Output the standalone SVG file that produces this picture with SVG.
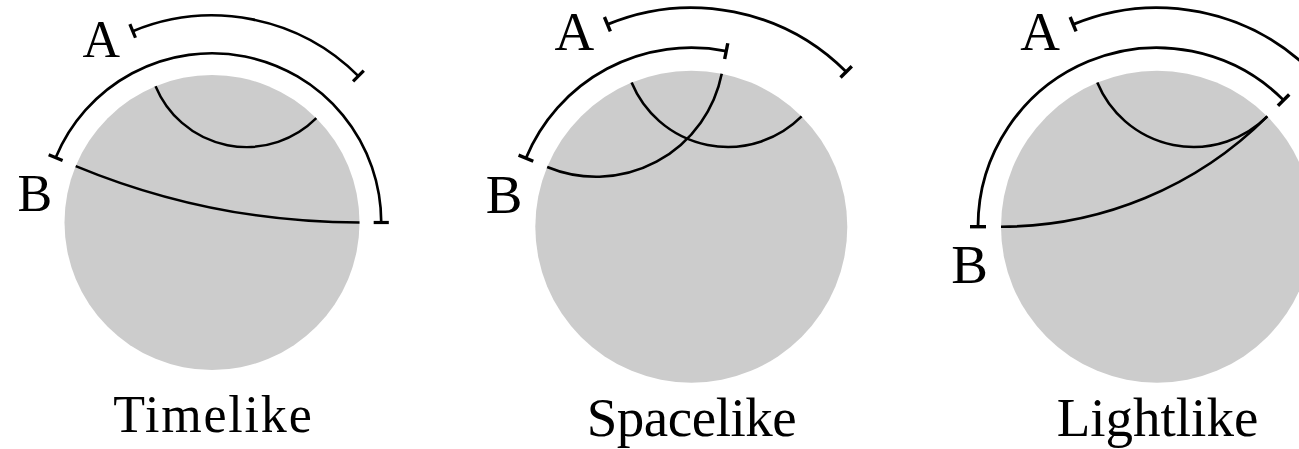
<svg xmlns="http://www.w3.org/2000/svg" width="1299" height="449" viewBox="0 0 1299 449">
<style>
.disk{fill:#cccccc;stroke:none}
.geo{fill:none;stroke:#000;stroke-width:2.6}
.br{fill:none;stroke:#000;stroke-width:2.8}
.tk{stroke:#000;stroke-width:3.4;stroke-linecap:butt}
.lbl{font-family:"Liberation Serif","DejaVu Serif",serif;font-size:55px;fill:#000;text-anchor:middle}
.cap{font-family:"Liberation Serif","DejaVu Serif",serif;font-size:55px;fill:#000;text-anchor:middle}
</style>
<rect width="1299" height="449" fill="#ffffff"/>

<!-- Panel 1: Timelike -->
<g id="timelike" transform="translate(212,222.5) scale(0.9455)">
  <circle class="disk" cx="0" cy="0" r="156"/>
  <g id="timelike-connectors">
    <path class="geo" d="M -59.70 -144.13 A 104.24 104.24 0 0 0 110.31 -110.31"/>
    <path class="geo" d="M -144.13 -59.70 A 784.3 784.3 0 0 0 156 0"/>
    <path class="br" d="M -83.81 -202.33 A 219 219 0 0 1 154.86 -154.86"/>
    <line class="tk" x1="-80.94" y1="-195.40" x2="-86.87" y2="-209.72"/>
    <line class="tk" x1="149.20" y1="-149.20" x2="160.52" y2="-160.52"/>
    <path class="br" d="M -165.37 -68.50 A 179 179 0 0 1 179 0"/>
    <line class="tk" x1="-158.02" y1="-65.46" x2="-172.72" y2="-71.54"/>
    <line class="tk" x1="171" y1="0" x2="187" y2="0"/>
  </g>
  <text class="lbl" x="-117" y="-175.4">A</text>
  <text class="lbl" x="-187.5" y="-12.2">B</text>
  <text class="cap" x="0.5" y="221.9" textLength="210" lengthAdjust="spacing">Timelike</text>
</g>

<!-- Panel 2: Spacelike -->
<g id="spacelike" transform="translate(691.3,226.7)">
  <circle class="disk" cx="0" cy="0" r="156"/>
  <g id="spacelike-connectors">
    <path class="geo" d="M -59.70 -144.13 A 104.24 104.24 0 0 0 110.31 -110.31"/>
    <path class="geo" d="M -144.13 -59.70 A 128.03 128.03 0 0 0 30.43 -153.00"/>
    <path class="br" d="M -83.81 -202.33 A 219 219 0 0 1 154.86 -154.86"/>
    <line class="tk" x1="-80.94" y1="-195.40" x2="-86.87" y2="-209.72"/>
    <line class="tk" x1="149.20" y1="-149.20" x2="160.52" y2="-160.52"/>
    <path class="br" d="M -165.37 -68.50 A 179 179 0 0 1 34.92 -175.56"/>
    <line class="tk" x1="-158.02" y1="-65.46" x2="-172.72" y2="-71.54"/>
    <line class="tk" x1="33.36" y1="-167.72" x2="36.48" y2="-183.41"/>
  </g>
  <text class="lbl" x="-117" y="-176.7">A</text>
  <text class="lbl" x="-187.3" y="-13.4">B</text>
  <text class="cap" x="0.4" y="209.5" textLength="210" lengthAdjust="spacing">Spacelike</text>
</g>

<!-- Panel 3: Lightlike -->
<g id="lightlike" transform="translate(1157,226.7)">
  <circle class="disk" cx="0" cy="0" r="156"/>
  <g id="lightlike-connectors">
    <path class="geo" d="M -59.70 -144.13 A 104.24 104.24 0 0 0 110.31 -110.31"/>
    <path class="geo" d="M -156 0 A 376.62 376.62 0 0 0 110.31 -110.31"/>
    <path class="br" d="M -83.81 -202.33 A 219 219 0 0 1 154.86 -154.86"/>
    <line class="tk" x1="-80.94" y1="-195.40" x2="-86.87" y2="-209.72"/>
    <line class="tk" x1="149.20" y1="-149.20" x2="160.52" y2="-160.52"/>
    <path class="br" d="M -179 0 A 179 179 0 0 1 126.57 -126.57"/>
    <line class="tk" x1="-171" y1="0" x2="-187" y2="0"/>
    <line class="tk" x1="120.92" y1="-120.92" x2="132.23" y2="-132.23"/>
  </g>
  <text class="lbl" x="-117" y="-176.7">A</text>
  <text class="lbl" x="-187.3" y="56.6">B</text>
  <text class="cap" x="0.5" y="209.5" textLength="201.6" lengthAdjust="spacing">Lightlike</text>
</g>
</svg>
